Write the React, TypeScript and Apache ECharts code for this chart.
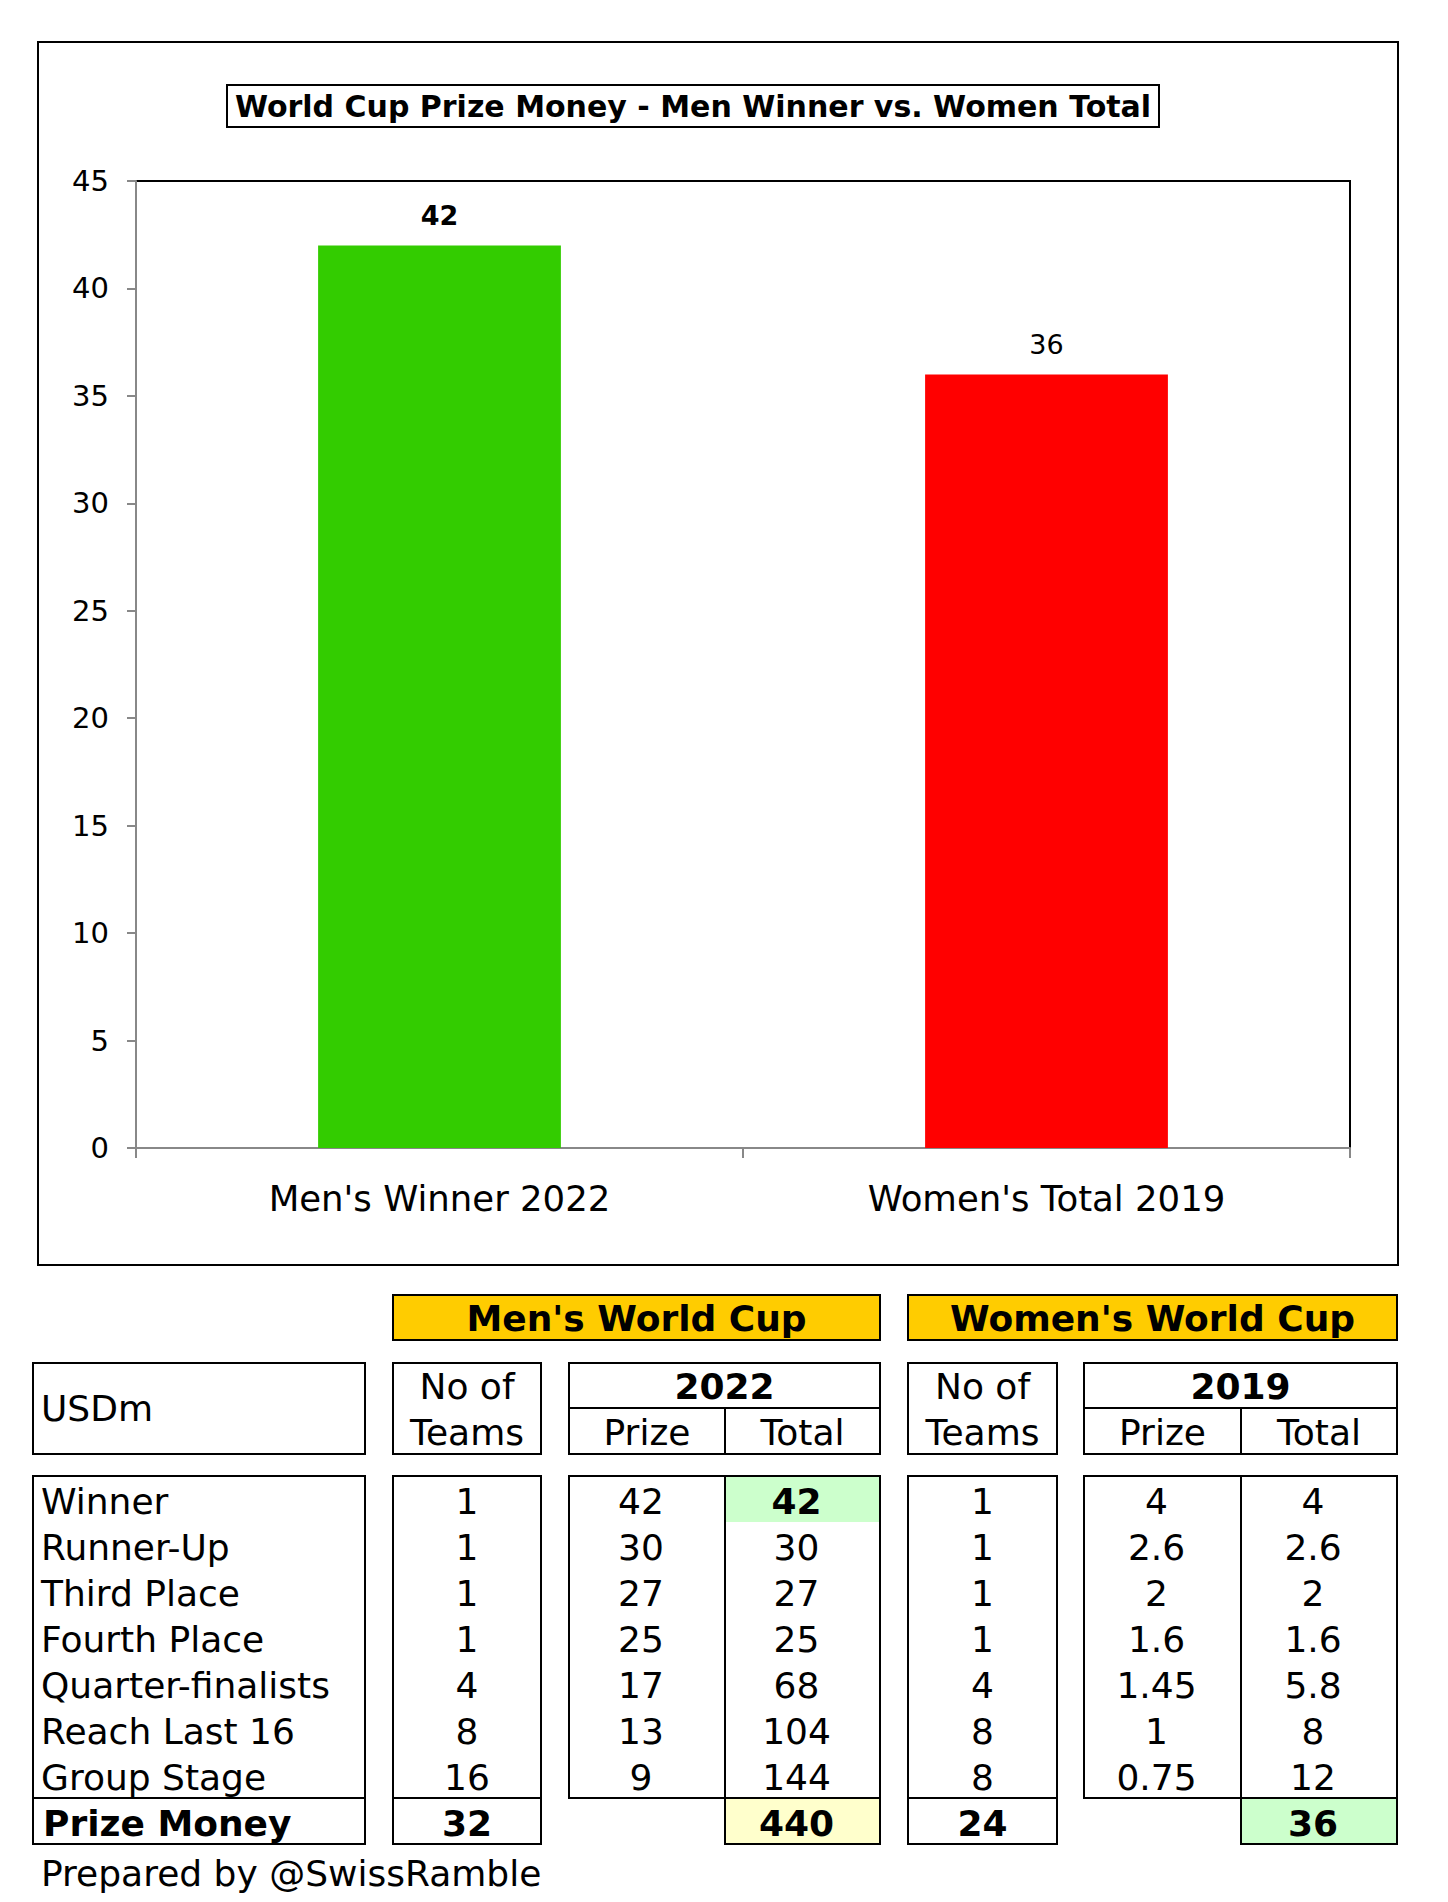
import React, { useEffect, useRef } from "react";
import * as echarts from "echarts";

const categories = ["Men's Winner 2022", "Women's Total 2019"];
const barValues = [42, 36];
const barColors = ["#33CC00", "#FF0000"];
const yTicks = { min: 0, max: 45, interval: 5 };

const rowLabels = ["Winner", "Runner-Up", "Third Place", "Fourth Place", "Quarter-finalists", "Reach Last 16", "Group Stage"];
const menTeams = ["1", "1", "1", "1", "4", "8", "16"];
const menPrize = ["42", "30", "27", "25", "17", "13", "9"];
const menTotal = ["42", "30", "27", "25", "68", "104", "144"];
const womenTeams = ["1", "1", "1", "1", "4", "8", "8"];
const womenPrize = ["4", "2.6", "2", "1.6", "1.45", "1", "0.75"];
const womenTotal = ["4", "2.6", "2", "1.6", "5.8", "8", "12"];
const totalsLabel = "Prize Money";
const totals = { menTeams: "32", menTotal: "440", womenTeams: "24", womenTotal: "36" };

const FONT = "'DejaVu Sans', Verdana, sans-serif";
const TS = 36;

function rect(x: number, y: number, w: number, h: number, fill = "none", lw = 2) {
  return {
    type: "rect",
    shape: { x, y, width: w, height: h },
    style: { fill, stroke: "#000", lineWidth: lw },
    z: 10,
  };
}
function fillRect(x: number, y: number, w: number, h: number, fill: string) {
  return { type: "rect", shape: { x, y, width: w, height: h }, style: { fill, stroke: null }, z: 9 };
}
function line(x1: number, y1: number, x2: number, y2: number, lw = 2) {
  return { type: "line", shape: { x1, y1, x2, y2 }, style: { stroke: "#000", lineWidth: lw }, z: 10 };
}
function text(s: string, x: number, y: number, opts: any = {}) {
  const size = opts.size || TS;
  const weight = opts.bold ? "bold" : "normal";
  const align = opts.align || "center";
  return {
    type: "text",
    x,
    y,
    z: 11,
    style: {
      text: s,
      font: `${weight} ${size}px ${FONT}`,
      fill: "#000",
      align,
      textAlign: align,
      verticalAlign: "middle",
      textVerticalAlign: "middle",
    },
  };
}

export default function App() {
  const ref = useRef<HTMLDivElement>(null);
  useEffect(() => {
    document.body.style.margin = "0";
    const chart = echarts.init(ref.current!, null, { renderer: "svg" });

    // table geometry
    const cLab = [33, 365];
    const cMT = [393, 541];
    const cMP = [569, 725];
    const cMTot = [725, 880];
    const cWT = [908, 1057];
    const cWP = [1084, 1241];
    const cWTot = [1241, 1397];
    const hdrTop = 1363, hdrMid = 1408, hdrBot = 1454;
    const bodyTop = 1476, rowH = 46;
    const bodyBot = bodyTop + rowH * rowLabels.length;
    const totBot = bodyBot + rowH;
    const mid = (c: number[]) => (c[0] + c[1]) / 2;
    const nmid = (c: number[]) => (c[0] + c[1]) / 2 - 6;

    const g: any[] = [];
    // outer frame
    g.push({ type: "rect", shape: { x: 38, y: 42, width: 1360, height: 1223 }, style: { fill: "none", stroke: "#000", lineWidth: 2 }, z: 10 });
    // title
    g.push(rect(227, 85, 932, 42, "#fff", 2));
    g.push(text("World Cup Prize Money - Men Winner vs. Women Total", 693, 106, { bold: true, size: 30 }));

    // section headers
    g.push(rect(393, 1295, 487, 45, "#FFCC00"));
    g.push(text("Men's World Cup", mid([393, 880]), 1318, { bold: true }));
    g.push(rect(908, 1295, 489, 45, "#FFCC00"));
    g.push(text("Women's World Cup", mid([908, 1397]), 1318, { bold: true }));

    // header boxes
    g.push(rect(cLab[0], hdrTop, cLab[1] - cLab[0], hdrBot - hdrTop));
    g.push(text("USDm", 41, (hdrTop + hdrBot) / 2, { align: "left" }));
    g.push(rect(cMT[0], hdrTop, cMT[1] - cMT[0], hdrBot - hdrTop));
    g.push(text("No of", mid(cMT), 1386));
    g.push(text("Teams", mid(cMT), 1432));
    g.push(rect(cMP[0], hdrTop, cMTot[1] - cMP[0], hdrBot - hdrTop));
    g.push(line(cMP[0], hdrMid, cMTot[1], hdrMid));
    g.push(line(cMP[1], hdrMid, cMP[1], hdrBot));
    g.push(text("2022", mid([cMP[0], cMTot[1]]), 1386, { bold: true }));
    g.push(text("Prize", mid(cMP), 1432));
    g.push(text("Total", mid(cMTot), 1432));
    g.push(rect(cWT[0], hdrTop, cWT[1] - cWT[0], hdrBot - hdrTop));
    g.push(text("No of", mid(cWT), 1386));
    g.push(text("Teams", mid(cWT), 1432));
    g.push(rect(cWP[0], hdrTop, cWTot[1] - cWP[0], hdrBot - hdrTop));
    g.push(line(cWP[0], hdrMid, cWTot[1], hdrMid));
    g.push(line(cWP[1], hdrMid, cWP[1], hdrBot));
    g.push(text("2019", mid([cWP[0], cWTot[1]]), 1386, { bold: true }));
    g.push(text("Prize", mid(cWP), 1432));
    g.push(text("Total", mid(cWTot), 1432));

    // highlight fills
    g.push(fillRect(cMTot[0], bodyTop, cMTot[1] - cMTot[0], rowH, "#CCFFCC"));
    g.push(fillRect(cMTot[0], bodyBot, cMTot[1] - cMTot[0], rowH, "#FFFFCC"));
    g.push(fillRect(cWTot[0], bodyBot, cWTot[1] - cWTot[0], rowH, "#CCFFCC"));

    // body boxes
    g.push(rect(cLab[0], bodyTop, cLab[1] - cLab[0], totBot - bodyTop));
    g.push(line(cLab[0], bodyBot, cLab[1], bodyBot));
    g.push(rect(cMT[0], bodyTop, cMT[1] - cMT[0], totBot - bodyTop));
    g.push(line(cMT[0], bodyBot, cMT[1], bodyBot));
    g.push(rect(cMP[0], bodyTop, cMTot[1] - cMP[0], bodyBot - bodyTop));
    g.push(line(cMP[1], bodyTop, cMP[1], bodyBot));
    g.push(rect(cMTot[0], bodyBot, cMTot[1] - cMTot[0], rowH));
    g.push(rect(cWT[0], bodyTop, cWT[1] - cWT[0], totBot - bodyTop));
    g.push(line(cWT[0], bodyBot, cWT[1], bodyBot));
    g.push(rect(cWP[0], bodyTop, cWTot[1] - cWP[0], bodyBot - bodyTop));
    g.push(line(cWP[1], bodyTop, cWP[1], bodyBot));
    g.push(rect(cWTot[0], bodyBot, cWTot[1] - cWTot[0], rowH));

    rowLabels.forEach((lab, i) => {
      const y = bodyTop + rowH * i + rowH / 2 + 2;
      g.push(text(lab, 41, y, { align: "left" }));
      g.push(text(menTeams[i], mid(cMT), y));
      g.push(text(menPrize[i], nmid(cMP), y));
      g.push(text(menTotal[i], nmid(cMTot), y, { bold: i === 0 }));
      g.push(text(womenTeams[i], mid(cWT), y));
      g.push(text(womenPrize[i], nmid(cWP), y));
      g.push(text(womenTotal[i], nmid(cWTot), y));
    });
    const ty = bodyBot + rowH / 2 + 2;
    g.push(text(totalsLabel, 43, ty, { align: "left", bold: true }));
    g.push(text(totals.menTeams, mid(cMT), ty, { bold: true }));
    g.push(text(totals.menTotal, nmid(cMTot), ty, { bold: true }));
    g.push(text(totals.womenTeams, mid(cWT), ty, { bold: true }));
    g.push(text(totals.womenTotal, nmid(cWTot), ty, { bold: true }));

    g.push(text("Prepared by @SwissRamble", 41, 1873, { align: "left" }));

    chart.setOption({
      animation: false,
      backgroundColor: "#fff",
      textStyle: { fontFamily: FONT },
      grid: {
        left: 136,
        right: 1448 - 1350,
        top: 181,
        bottom: 1902 - 1148,
        show: true,
        borderColor: "#000",
        borderWidth: 2,
        containLabel: false,
      },
      xAxis: {
        type: "category",
        data: categories,
        boundaryGap: true,
        axisLine: { lineStyle: { color: "#888", width: 2 } },
        axisTick: { show: true, length: 10, lineStyle: { color: "#888", width: 2 } },
        axisLabel: { fontSize: 35.5, color: "#000", margin: 32, fontFamily: FONT },
      },
      yAxis: {
        type: "value",
        min: yTicks.min,
        max: yTicks.max,
        interval: yTicks.interval,
        axisLine: { show: true, lineStyle: { color: "#888", width: 2 } },
        axisTick: { show: true, length: 9, lineStyle: { color: "#888", width: 2 } },
        splitLine: { show: false },
        axisLabel: { fontSize: 29, color: "#000", margin: 27, fontFamily: FONT },
      },
      series: [
        {
          type: "bar",
          barWidth: "40%",
          data: barValues.map((v, i) => ({
            value: v,
            itemStyle: { color: barColors[i] },
            label: {
              show: true,
              position: "top",
              distance: 16,
              fontSize: 27,
              fontWeight: i === 0 ? "bold" : "normal",
              color: "#000",
              fontFamily: FONT,
            },
          })),
        },
      ],
      graphic: { elements: g },
    });
    return () => chart.dispose();
  }, []);
  return <div ref={ref} style={{ width: 1448, height: 1902 }} />;
}
